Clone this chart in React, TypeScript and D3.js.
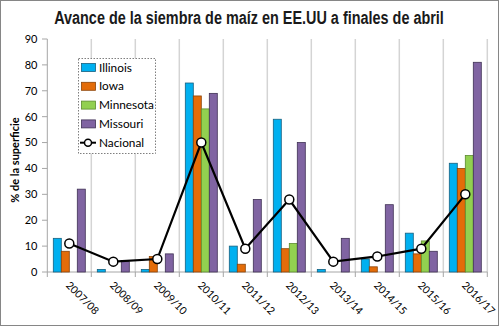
import React from "react";
import * as d3 from "d3";

const categories = ["2007/08","2008/09","2009/10","2010/11","2011/12","2012/13","2013/14","2014/15","2015/16","2016/17"];
const illinois = [13,1,1,73,10,59,1,5,15,42];
const iowa = [8,0,6,68,3,9,0,2,7,40];
const minnesota = [0,0,0,63,0,11,0,0,12,45];
const missouri = [32,4,7,69,28,50,13,26,8,81];
const nacional = [11,4,5,50,9,28,4,6,9,30];
const yTicks = [0,10,20,30,40,50,60,70,80,90];
const seriesNames = ["Illinois","Iowa","Minnesota","Missouri"];
const seriesColors = ["#00B0F0","#E36C09","#92D050","#8064A2"];
const seriesStroke = ["#17607f","#8a4308","#5c8a2e","#3f3154"];
const TITLE = "Avance de la siembra de maíz en EE.UU a finales de abril";

const W = 499, H = 326;
const FONT = "Lato, 'Open Sans', sans-serif";
const TITLE_FONT = "'Liberation Sans Narrow', 'Liberation Sans', Arial, sans-serif";

function measure(text: string, font: string): number {
  try {
    const c = document.createElement("canvas").getContext("2d");
    if (!c) return 480;
    c.font = font;
    return c.measureText(text).width;
  } catch (e) {
    return 480;
  }
}

export default function App() {
  const x = d3.scaleBand<string>().domain(categories).range([47.3, 487.3]).padding(0);
  const xi = d3.scaleBand<string>().domain(seriesNames).range([0, x.bandwidth()]).paddingInner(0).paddingOuter(0.75);
  const y = d3.scaleLinear().domain([0, 90]).range([272, 39]);
  const series = [illinois, iowa, minnesota, missouri];
  const line = d3.line<number>().x((_, i) => x(categories[i])! + x.bandwidth() / 2).y(d => y(d));
  const bounds = categories.map(c => x(c)!).concat([x(categories[categories.length - 1])! + x.bandwidth()]);
  const tw = measure(TITLE, `bold 18.5px ${TITLE_FONT}`);
  const sx = Math.min(1, 390 / tw);

  return (
    <svg width={W} height={H} style={{ position: "absolute", left: 0, top: 0, background: "#fff" }} fontFamily={FONT}>
      <rect x={0.5} y={0.5} width={W - 1} height={H - 1} fill="#fff" stroke="#868686" />
      <text transform={`translate(249,24) scale(${sx},1)`} textAnchor="middle" fontFamily={TITLE_FONT} fontSize={18.5} fontWeight="bold" fill="#1a1a1a">{TITLE}</text>
      {bounds.slice(1).map((b, i) => (
        <line key={"g" + i} x1={b} x2={b} y1={y(90)} y2={y(0)} stroke="#d4d4d4" strokeWidth={1.5} />
      ))}
      <line x1={47.3} x2={47.3} y1={y(90)} y2={y(0)} stroke="#a6a6a6" />
      <line x1={47.3} x2={487.3} y1={y(0)} y2={y(0)} stroke="#a6a6a6" />
      {yTicks.map(t => (
        <g key={"y" + t}>
          <line x1={42} x2={47.3} y1={y(t)} y2={y(t)} stroke="#a6a6a6" />
          <text x={37.5} y={y(t)} dy="0.35em" textAnchor="end" fontSize={11} fill="#000">{t}</text>
        </g>
      ))}
      {bounds.map((b, i) => (
        <line key={"xt" + i} x1={b} x2={b} y1={y(0)} y2={y(0) + 5} stroke="#a6a6a6" />
      ))}
      {categories.map(c => (
        <text key={"xl" + c} transform={`translate(${x(c)! + x.bandwidth() / 2 - 4},${y(0) + 14}) rotate(45)`} fontSize={10.5} fill="#000">{c}</text>
      ))}
      <text transform={`translate(19,160) rotate(-90)`} textAnchor="middle" fontSize={11} fontWeight="bold" fill="#000">% de la superficie</text>
      {series.map((vals, si) => vals.map((v, i) => v > 0 ? (
        <rect key={"b" + si + "-" + i} x={x(categories[i])! + xi(seriesNames[si])!} y={y(v)} width={xi.bandwidth()} height={y(0) - y(v)} fill={seriesColors[si]} stroke={seriesStroke[si]} strokeWidth={0.8} />
      ) : null))}
      <path d={line(nacional)!} fill="none" stroke="#000" strokeWidth={2.2} />
      {nacional.map((v, i) => (
        <circle key={"n" + i} cx={x(categories[i])! + x.bandwidth() / 2} cy={y(v)} r={4.5} fill="#fff" stroke="#000" strokeWidth={1.5} />
      ))}
      <g>
        <rect x={78.5} y={58.5} width={77} height={95} fill="#fff" stroke="#7f7f7f" strokeDasharray="1.5,1.5" />
        {seriesNames.map((s, i) => (
          <g key={"l" + s} transform={`translate(0,${67.5 + i * 18.8})`}>
            <rect x={81.5} y={-4} width={14} height={8} fill={seriesColors[i]} stroke={seriesStroke[i]} strokeWidth={0.8} />
            <text x={99} y={0} dy="0.35em" fontSize={11.8} fill="#000">{s}</text>
          </g>
        ))}
        <g transform={`translate(0,${67.5 + 4 * 18.8})`}>
          <line x1={80} x2={96} y1={0} y2={0} stroke="#000" strokeWidth={2} />
          <circle cx={88} cy={0} r={3.5} fill="#fff" stroke="#000" strokeWidth={1.5} />
          <text x={99} y={0} dy="0.35em" fontSize={11.8} fill="#000">Nacional</text>
        </g>
      </g>
    </svg>
  );
}
